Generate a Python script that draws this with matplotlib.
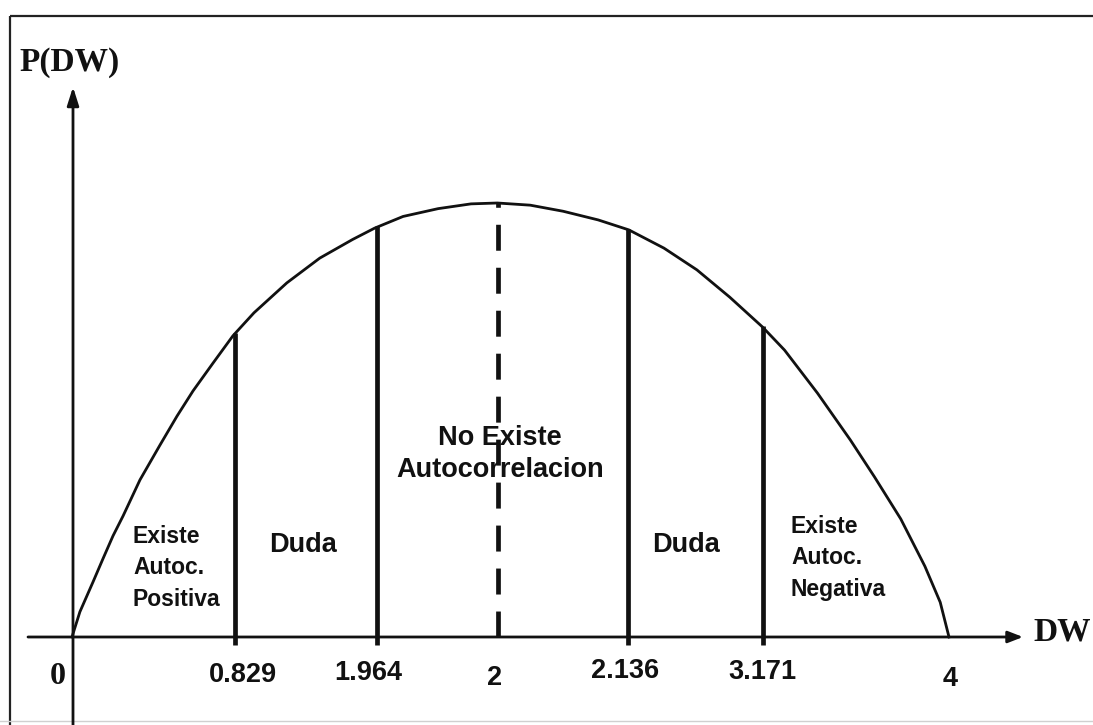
import numpy as np
import matplotlib
matplotlib.use("Agg")
import matplotlib.pyplot as plt

# ---- data (DW units on x, relative density on y; schematic as in the picture) ----
curve_x = [0.000, 0.036, 0.096, 0.141, 0.187, 0.233, 0.310, 0.401, 0.479, 0.552, 0.643, 0.734,
           0.83, 0.98, 1.13, 1.28, 1.38, 1.51, 1.67, 1.82, 1.94, 2.09, 2.24, 2.40, 2.54,
           2.70, 2.85, 3.00, 3.15, 3.25, 3.40, 3.55, 3.66, 3.78, 3.89, 3.96, 4.00]
curve_y = [0.000, 0.058, 0.127, 0.180, 0.233, 0.279, 0.362, 0.442, 0.509, 0.567, 0.631, 0.694,
           0.747, 0.816, 0.873, 0.916, 0.942, 0.969, 0.987, 0.998, 1.000, 0.995, 0.981, 0.961, 0.938,
           0.896, 0.846, 0.783, 0.714, 0.661, 0.562, 0.454, 0.369, 0.272, 0.163, 0.080, 0.000]

bound_x = [0.745, 1.393, 2.535, 3.150]          # schematic positions of the limits
bound_top = [0.700, 0.947, 0.940, 0.716]
bound_labels = ["0.829", "1.964", "2.136", "3.171"]
center_x = 1.941
center_top = 1.000
center_label = "2"
end_labels = ["0", "4"]

region_texts = ["Existe\nAutoc.\nPositiva", "Duda", "No Existe\nAutocorrelacion", "Duda",
                "Existe\nAutoc.\nNegativa"]

# ---- figure: one axes covering whole canvas, pixel helpers for layout ----
W, H = 1093, 725
fig = plt.figure(figsize=(W / 100, H / 100), dpi=100)
ax = fig.add_axes([0, 0, 1, 1])
X0, SX = 72.0, 219.25    # px of DW=0, px per DW unit
Y0, SY = 637.0, 434.0    # px of baseline, px per unit density
ax.set_xlim((0 - X0) / SX, (W - X0) / SX)
ax.set_ylim((Y0 - H) / SY, (Y0 - 0) / SY)
ax.axis("off")


def P(px, py):
    return (px - X0) / SX, (Y0 - py) / SY


ink = "#111111"
serif = ["Liberation Serif", "DejaVu Serif"]
sans = ["Liberation Sans", "DejaVu Sans"]

# frame of the picture
ax.plot([9.5 / W, 1.0], [1 - 15.5 / H, 1 - 15.5 / H], transform=ax.transAxes, color="#222222", lw=1.6,
        solid_capstyle="butt", clip_on=False)
ax.plot([9.5 / W, 9.5 / W], [1 - 15.5 / H, 0], transform=ax.transAxes, color="#222222", lw=1.6,
        solid_capstyle="butt", clip_on=False)
ax.plot([0, 1], [1 - 721 / H, 1 - 721 / H], transform=ax.transAxes, color="#d0d0d0", lw=1.0)

# axes with arrows
ax.annotate("", xy=P(1023, Y0), xytext=P(28, Y0),
            arrowprops=dict(arrowstyle="-|>,head_length=0.9,head_width=0.35", color=ink, lw=2.0,
                            shrinkA=0, shrinkB=0))
ax.annotate("", xy=P(73, 87), xytext=P(73, 725),
            arrowprops=dict(arrowstyle="-|>,head_length=1.1,head_width=0.35", color=ink, lw=2.0,
                            shrinkA=0, shrinkB=0))

# density curve
ax.plot(curve_x, curve_y, color=ink, lw=2.0, solid_joinstyle="round", zorder=3)

# limit lines
below = -8 / SY
for bx, bt in zip(bound_x, bound_top):
    ax.plot([bx, bx], [below, bt], color=ink, lw=3.4, solid_capstyle="butt", zorder=4)
ax.plot([center_x, center_x], [0, center_top], color=ink, lw=3.4, dashes=(5.5, 3.6),
        dash_capstyle="butt", zorder=4)

# tick labels
tick_pos = [(243, 675), (368, 673), (625, 671), (762, 672)]
for (tx, ty), lab in zip(tick_pos, bound_labels):
    ax.text(*P(tx, ty), lab, family=sans, weight="bold", fontsize=19.5, color=ink,
            ha="center", va="center")
ax.text(*P(495, 678), center_label, family=sans, weight="bold", fontsize=19.5, color=ink,
        ha="center", va="center")
ax.text(*P(950, 679), end_labels[1], family=sans, weight="bold", fontsize=19.5, color=ink,
        ha="center", va="center")
ax.text(*P(58, 676), end_labels[0], family=serif, weight="bold", fontsize=23, color=ink,
        ha="center", va="center")

# axis titles
ax.text(*P(19, 62), "P(DW)", family=serif, weight="bold", fontsize=24, color=ink,
        ha="left", va="center")
ax.text(*P(1033, 632), "DW", family=serif, weight="bold", fontsize=24, color=ink,
        ha="left", va="center")

# region labels
ax.text(*P(133, 568), region_texts[0], family=sans, weight="bold", fontsize=16.5, color=ink,
        ha="left", va="center", linespacing=1.45)
ax.text(*P(303, 545), region_texts[1], family=sans, weight="bold", fontsize=19.5, color=ink,
        ha="center", va="center")
ax.text(*P(500, 454), region_texts[2], family=sans, weight="bold", fontsize=19.5, color=ink,
        ha="center", va="center", linespacing=1.3)
ax.text(*P(686, 545), region_texts[3], family=sans, weight="bold", fontsize=19.5, color=ink,
        ha="center", va="center")
ax.text(*P(791, 558), region_texts[4], family=sans, weight="bold", fontsize=16.5, color=ink,
        ha="left", va="center", linespacing=1.45)

fig.savefig("out.png", dpi=100, facecolor="white")
